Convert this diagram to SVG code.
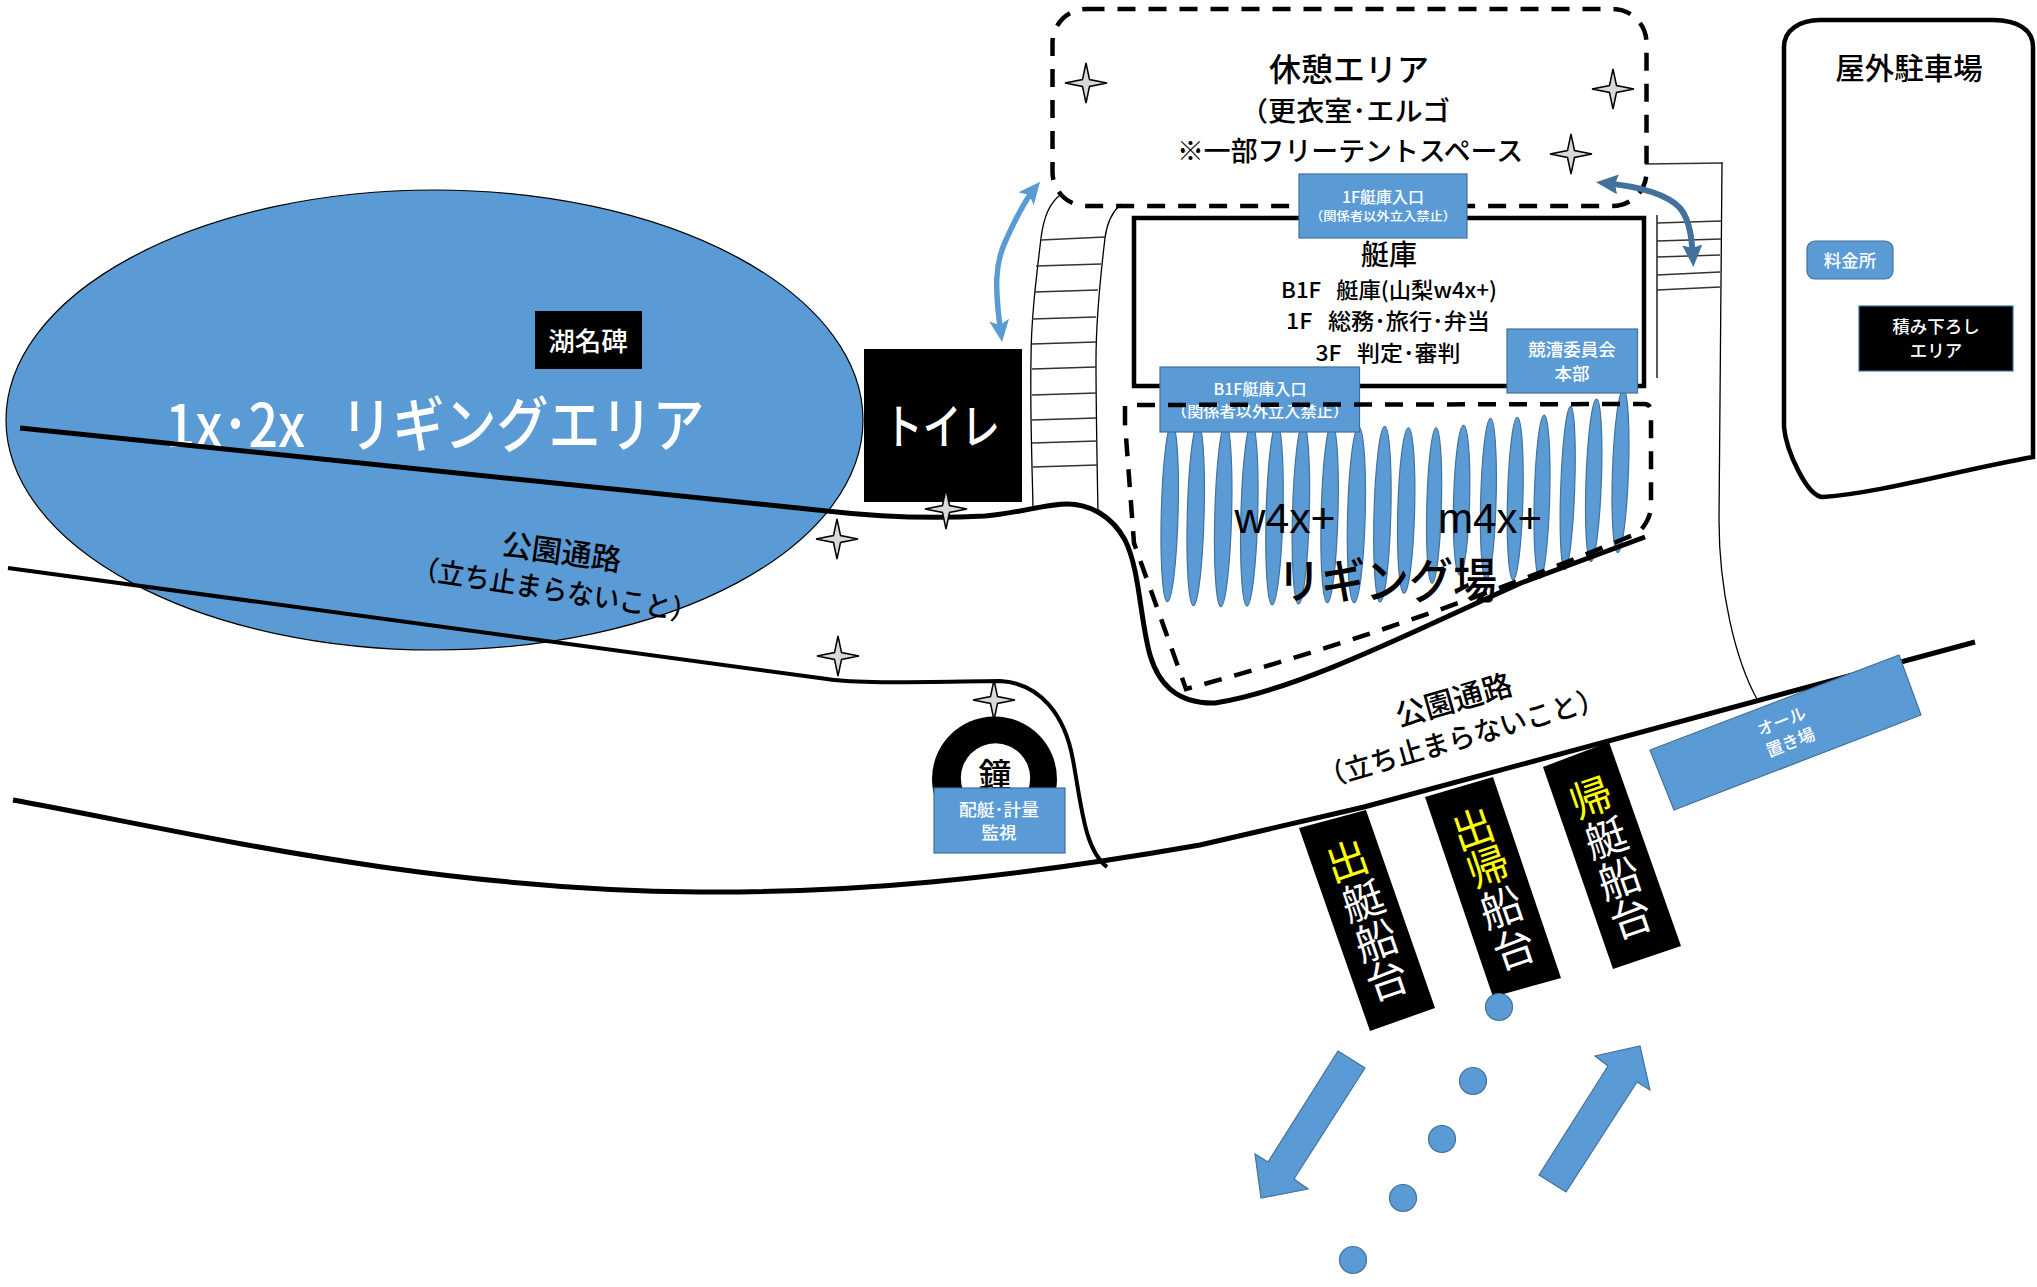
<svg xmlns="http://www.w3.org/2000/svg" width="2037" height="1287" viewBox="0 0 2037 1287">
<style>
text{font-family:"Noto Sans CJK JP","Noto Sans",sans-serif;text-anchor:middle;dominant-baseline:central;font-weight:500}
#launch-out text,#launch-both text,#launch-in text{font-weight:400}
.lat{font-family:"Liberation Sans","Noto Sans CJK JP",sans-serif;font-weight:400}
.k{fill:#000}.w{fill:#fff}.y{fill:#ff0}
.blue{fill:#5b9bd5;stroke:#41719c;stroke-width:1.2}
.blk{fill:#000}
.road{fill:none;stroke:#000;stroke-width:5;stroke-linecap:butt}
.road2{fill:none;stroke:#000;stroke-width:4}
.thin{fill:none;stroke:#000;stroke-width:1.3}
.rung{fill:none;stroke:#333;stroke-width:1.3}
.dash{fill:none;stroke:#000;stroke-width:4.5;stroke-dasharray:18 13}
.star{fill:#d9d9d9;stroke:#000;stroke-width:1.5}
</style>
<defs>
<path id="star4" d="M0,-20 L3.5,-3.5 L21,0 L3.5,3.5 L0,20 L-3.5,3.5 L-21,0 L-3.5,-3.5Z"/>
<marker id="headL" viewBox="0 0 22 20" refX="14" refY="10" markerWidth="22" markerHeight="20" markerUnits="userSpaceOnUse" orient="auto-start-reverse"><path d="M0,0 L22,10 L0,20 L5,10Z" fill="#5b9bd5"/></marker>
<marker id="headD" viewBox="0 0 22 20" refX="14" refY="10" markerWidth="22" markerHeight="20" markerUnits="userSpaceOnUse" orient="auto-start-reverse"><path d="M0,0 L22,10 L0,20 L3,10Z" fill="#41719c"/></marker>
</defs>

<g id="rigging-1x2x">
<ellipse cx="434.5" cy="420" rx="428.5" ry="230" fill="#5b9bd5" stroke="#000" stroke-width="1.2"/>
<text class="w" x="435" y="420" font-size="60" textLength="539" lengthAdjust="spacingAndGlyphs">1x･2x&#160;&#160;&#160;リギングエリア</text>
</g>
<g id="monument">
<rect class="blk" x="535" y="311" width="107" height="58"/>
<text class="w" x="588" y="339" font-size="26.5">湖名碑</text>
</g>

<g id="left-stairs">
<path class="thin" d="M1061,194 C1050,203 1044,215 1041,238 C1036,280 1031,320 1031,360 C1030,410 1032,460 1033,508"/>
<path class="thin" d="M1121,204 C1112,212 1107,222 1105,238 C1100,280 1096,320 1096,360 C1096,410 1097,460 1098,512"/>
<path class="rung" d="M1041,240 L1105,237 M1036,266 L1101,264 M1034,292 L1098,290 M1032,319 L1096,317 M1032,344 L1096,342 M1032,369 L1096,367 M1032,395 L1097,393 M1032,420 L1096,418 M1032,443 L1097,441 M1033,467 L1097,465"/>
</g>
<g id="right-stairs">
<path class="rung" d="M1645,164 L1723,163"/>
<path class="thin" d="M1722,163 L1719,520 C1719,590 1735,660 1758,701"/>
<path class="thin" d="M1657,215 L1657,378"/>
<path class="rung" d="M1657,223 L1721,221 M1657,241 L1721,239 M1657,257 L1720,255 M1657,275 L1720,272 M1657,290 L1720,287"/>
</g>

<g id="rest-area">
<rect class="dash" x="1052.5" y="9" width="594" height="197" rx="34" ry="34"/>
<text class="k" x="1349" y="67" font-size="32">休憩エリア</text>
<text class="k" x="1345" y="109" font-size="27" textLength="210" lengthAdjust="spacingAndGlyphs">（更衣室･エルゴ</text>
<text class="k" x="1350" y="149" font-size="27" textLength="346" lengthAdjust="spacingAndGlyphs">※一部フリーテントスペース</text>
</g>

<g id="boathouse">
<rect x="1134" y="218" width="510" height="168" fill="none" stroke="#000" stroke-width="4.5"/>
<text class="k" x="1389" y="253" font-size="28">艇庫</text>
<text class="k" x="1389" y="288" font-size="22" textLength="216" lengthAdjust="spacingAndGlyphs">B1F&#160;&#160;&#160;艇庫(山梨w4x+)</text>
<text class="k" x="1388" y="319" font-size="22" textLength="204" lengthAdjust="spacingAndGlyphs">1F&#160;&#160;&#160;総務･旅行･弁当</text>
<text class="k" x="1388" y="351" font-size="22" textLength="145" lengthAdjust="spacingAndGlyphs">3F&#160;&#160;&#160;判定･審判</text>
</g>
<g id="entrance-1f">
<rect class="blue" x="1299" y="174" width="168" height="64"/>
<text class="w" x="1383" y="196" font-size="16">1F艇庫入口</text>
<text class="w" x="1383" y="215" font-size="12.5" textLength="146" lengthAdjust="spacingAndGlyphs">（関係者以外立入禁止）</text>
</g>

<g id="oars">
<ellipse class="blue" cx="1169.7" cy="512.5" rx="8.4" ry="89.2" transform="rotate(1.5 1169.7 512.5)"/>
<ellipse class="blue" cx="1195.7" cy="514.5" rx="8.4" ry="91.2" transform="rotate(1.5 1195.7 514.5)"/>
<ellipse class="blue" cx="1223.2" cy="515" rx="8.4" ry="91.7" transform="rotate(1.5 1223.2 515)"/>
<ellipse class="blue" cx="1249.3" cy="514.7" rx="8.4" ry="91.3" transform="rotate(1.5 1249.3 514.7)"/>
<ellipse class="blue" cx="1274.5" cy="514.2" rx="8.4" ry="90.8" transform="rotate(1.5 1274.5 514.2)"/>
<ellipse class="blue" cx="1300.9" cy="513.7" rx="8.4" ry="90.3" transform="rotate(1.5 1300.9 513.7)"/>
<ellipse class="blue" cx="1329.6" cy="513" rx="8.4" ry="89.7" transform="rotate(1.5 1329.6 513)"/>
<ellipse class="blue" cx="1356.4" cy="514.7" rx="8.8" ry="88" transform="rotate(1.5 1356.4 514.7)"/>
<ellipse class="blue" cx="1382.4" cy="514.2" rx="8.4" ry="87.8" transform="rotate(1.5 1382.4 514.2)"/>
<ellipse class="blue" cx="1406.2" cy="510.5" rx="8.4" ry="82.8" transform="rotate(1.5 1406.2 510.5)"/>
<ellipse class="blue" cx="1434.1" cy="505.5" rx="7.3" ry="77.8" transform="rotate(1.5 1434.1 505.5)"/>
<ellipse class="blue" cx="1461.6" cy="500.2" rx="8" ry="74.8" transform="rotate(1.5 1461.6 500.2)"/>
<ellipse class="blue" cx="1488.4" cy="499.2" rx="7.7" ry="80.8" transform="rotate(1.5 1488.4 499.2)"/>
<ellipse class="blue" cx="1515.2" cy="498.7" rx="7.7" ry="81.3" transform="rotate(1.5 1515.2 498.7)"/>
<ellipse class="blue" cx="1542" cy="496.7" rx="7.7" ry="81.7" transform="rotate(1.5 1542 496.7)"/>
<ellipse class="blue" cx="1567.7" cy="488" rx="7" ry="81.7" transform="rotate(2 1567.7 488)"/>
<ellipse class="blue" cx="1593.7" cy="480.3" rx="7.7" ry="81.3" transform="rotate(2 1593.7 480.3)"/>
<ellipse class="blue" cx="1620.5" cy="471" rx="8" ry="81.7" transform="rotate(2 1620.5 471)"/>
</g>

<g id="entrance-b1f">
<rect class="blue" x="1160" y="367" width="199.5" height="65"/>
<text class="w" x="1260" y="388" font-size="16">B1F艇庫入口</text>
<text class="w" x="1260" y="410" font-size="15" textLength="178" lengthAdjust="spacingAndGlyphs">（関係者以外立入禁止）</text>
</g>
<g id="committee">
<rect class="blue" x="1507" y="329" width="130.5" height="64"/>
<text class="w" x="1572" y="348" font-size="17.5">競漕委員会</text>
<text class="w" x="1572" y="372" font-size="17.5">本部</text>
</g>

<g id="rigging-yard">
<path class="dash" d="M1125,424 L1125,405 L1644,404 Q1651,404 1651,412 L1651,505 Q1651,520 1638,533 Q1411,628 1186,689 L1134,543 L1127,450 Z"/>
<text class="k lat" x="1285" y="518" font-size="42" textLength="101" lengthAdjust="spacingAndGlyphs">w4x+</text>
<text class="k lat" x="1490" y="518" font-size="42" textLength="104" lengthAdjust="spacingAndGlyphs">m4x+</text>
<text class="k" x="1387" y="577" font-size="48" textLength="220" lengthAdjust="spacingAndGlyphs">リギング場</text>
</g>

<g id="toilet">
<rect class="blk" x="864" y="349" width="158" height="153"/>
<text class="w" x="942" y="423" font-size="48" textLength="116" lengthAdjust="spacingAndGlyphs">トイレ</text>
</g>

<g id="roads">
<path class="road" d="M20,428 L827,511 C870,516 930,519 985,516 C1020,513 1045,504 1067,504 C1090,504 1112,516 1125,540 C1140,570 1140,620 1150,655 C1158,682 1175,704 1215,703 C1300,690 1420,628 1521,583 L1645,537"/>
<path class="road2" d="M8,568 L827,679 C860,684 920,682 1000,681 C1040,683 1065,715 1073,760 C1082,810 1085,850 1107,867"/>
<path class="road" d="M13,800 C180,830 420,890 700,892 C850,893 1000,880 1200,845 L1364,807 L1975,642"/>
</g>

<g id="park-path-left">
<text class="k" x="562" y="550" font-size="30" transform="rotate(8 562 550)">公園通路</text>
<text class="k" x="555" y="588" font-size="28" textLength="288" lengthAdjust="spacingAndGlyphs" transform="rotate(9 555 588)">（立ち止まらないこと）</text>
</g>
<g id="park-path-right">
<text class="k" x="1453" y="698" font-size="30" transform="rotate(-16 1453 698)">公園通路</text>
<text class="k" x="1461" y="736" font-size="28" textLength="296" lengthAdjust="spacingAndGlyphs" transform="rotate(-16 1461 736)">（立ち止まらないこと）</text>
</g>

<g id="bell">
<circle cx="994.5" cy="779" r="62.5" fill="#000"/>
<circle cx="995.5" cy="778" r="34.7" fill="#fff"/>
<text class="k" x="995" y="773" font-size="33">鐘</text>
</g>
<g id="weighing">
<rect class="blue" x="934" y="788" width="131" height="65"/>
<text class="w" x="999" y="808" font-size="17" textLength="80" lengthAdjust="spacingAndGlyphs">配艇･計量</text>
<text class="w" x="999" y="831" font-size="17.5">監視</text>
</g>

<g id="parking">
<path d="M1784,47 C1784,30 1800,20 1820,20 L1993,20 C2018,20 2033,30 2033,47 L2033,457 C1960,470 1880,493 1823,497 C1807,497 1786,450 1784,427 Z" fill="none" stroke="#000" stroke-width="4.5"/>
<text class="k" x="1909" y="66" font-size="29.5">屋外駐車場</text>
</g>
<g id="toll">
<rect class="blue" x="1807" y="241" width="86" height="38" rx="8"/>
<text class="w" x="1850" y="259" font-size="17.5">料金所</text>
</g>
<g id="loading">
<rect x="1859" y="306" width="154" height="65" fill="#000" stroke="#41719c" stroke-width="1.2"/>
<text class="w" x="1936" y="325" font-size="17.5">積み下ろし</text>
<text class="w" x="1936" y="349" font-size="17.5">エリア</text>
</g>

<g id="launch-out">
<polygon class="blk" points="1299,828 1366,810 1435,1008 1370,1031"/>
<text class="y" font-size="42" transform="translate(1346 858) rotate(-19)">出</text>
<text class="w" font-size="42" transform="translate(1362 898) rotate(-19)">艇</text>
<text class="w" font-size="42" transform="translate(1375 938) rotate(-19)">船</text>
<text class="w" font-size="42" transform="translate(1386 977) rotate(-19)">台</text>
</g>
<g id="launch-both">
<polygon class="blk" points="1425,797 1493,777 1561,978 1493,997"/>
<text class="y" font-size="42" transform="translate(1472 826) rotate(-19)">出</text>
<text class="y" font-size="42" transform="translate(1487 864) rotate(-19)">帰</text>
<text class="w" font-size="42" transform="translate(1500 905) rotate(-19)">船</text>
<text class="w" font-size="42" transform="translate(1513 946) rotate(-19)">台</text>
</g>
<g id="launch-in">
<polygon class="blk" points="1543,767 1609,742 1681,946 1613,969"/>
<text class="y" font-size="42" transform="translate(1590 795) rotate(-19)">帰</text>
<text class="w" font-size="42" transform="translate(1605 835) rotate(-19)">艇</text>
<text class="w" font-size="42" transform="translate(1618 876) rotate(-19)">船</text>
<text class="w" font-size="42" transform="translate(1630 915) rotate(-19)">台</text>
</g>
<g id="oar-storage">
<polygon class="blue" points="1650,750 1899,655 1921,715 1674,810"/>
<text class="w" font-size="17" transform="translate(1781 720) rotate(-21)">オール</text>
<text class="w" font-size="17" transform="translate(1790 741) rotate(-21)">置き場</text>
</g>

<g id="buoys">
<circle class="blue" cx="1499" cy="1007" r="13.5"/>
<circle class="blue" cx="1473" cy="1081" r="13.5"/>
<circle class="blue" cx="1442" cy="1139" r="13.5"/>
<circle class="blue" cx="1403" cy="1198" r="13.5"/>
<circle class="blue" cx="1353" cy="1260" r="13.5"/>
</g>
<g id="lane-out"><polygon class="blue" points="1338,1051 1365,1068 1294,1179 1308,1189 1261,1198 1255,1154 1268,1162"/></g>
<g id="lane-in"><polygon class="blue" points="1539,1175 1566,1192 1637,1082 1650,1090 1640,1046 1595,1056 1608,1066"/></g>

<g id="stars" class="star">
<use href="#star4" x="1086" y="83"/>
<use href="#star4" x="1613" y="89"/>
<use href="#star4" x="1571" y="154"/>
<use href="#star4" x="946" y="509"/>
<use href="#star4" x="837" y="539"/>
<use href="#star4" x="838" y="656"/>
<use href="#star4" x="994" y="700"/>
</g>

<g id="connectors">
<path d="M1001,334 C995,290 994,265 1006,240 C1015,220 1025,200 1035,188" fill="none" stroke="#5b9bd5" stroke-width="5.5" marker-start="url(#headL)" marker-end="url(#headL)"/>
<path d="M1604,183 C1635,186 1665,192 1680,208 C1690,220 1692,240 1693,259" fill="none" stroke="#41719c" stroke-width="6" marker-start="url(#headD)" marker-end="url(#headD)"/>
</g>
</svg>
